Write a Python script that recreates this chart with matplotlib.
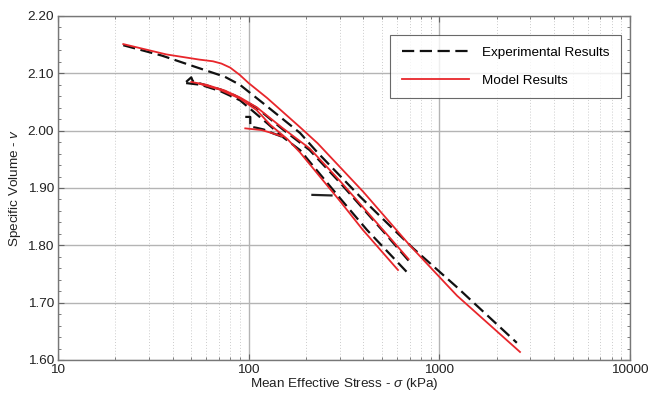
import numpy as np
import matplotlib
matplotlib.use('Agg')
import matplotlib.pyplot as plt
from matplotlib.ticker import FixedLocator, FixedFormatter, MultipleLocator, NullFormatter

plt.rcParams['font.family'] = ['Liberation Sans', 'DejaVu Sans']
plt.rcParams['mathtext.fontset'] = 'custom'
plt.rcParams['mathtext.it'] = 'Liberation Sans:italic'
plt.rcParams['mathtext.rm'] = 'Liberation Sans'

# ---- data: mean effective stress (kPa) vs specific volume ----
# test 1 (long test up to ~2600 kPa)
exp1_p = [22, 35, 55, 75, 90, 119, 186, 228, 384, 600, 728, 1237, 2550]
exp1_v = [2.149, 2.131, 2.109, 2.094, 2.080, 2.048, 1.996, 1.963, 1.885, 1.822, 1.795, 1.727, 1.630]
mod1_p = [22, 37, 55, 65, 72, 80, 90, 100, 125, 186, 230, 400, 700, 1000, 1240, 2650]
mod1_v = [2.151, 2.133, 2.124, 2.121, 2.117, 2.110, 2.097, 2.083, 2.057, 2.006, 1.978, 1.893, 1.800, 1.745, 1.712, 1.614]

# test 2 (middle line)
exp2_p = [47, 50, 51, 56, 71, 84, 110, 150, 209, 300, 500, 700]
exp2_v = [2.085, 2.093, 2.086, 2.082, 2.072, 2.062, 2.040, 2.003, 1.966, 1.910, 1.827, 1.771]
mod2_p = [50, 60, 75, 90, 110, 150, 209, 300, 500, 690]
mod2_v = [2.085, 2.080, 2.070, 2.058, 2.041, 2.005, 1.969, 1.913, 1.829, 1.776]

# test 3 (bottom line)
exp3_p = [47, 56, 71, 90, 102, 125, 151, 186, 300, 417, 700]
exp3_v = [2.083, 2.080, 2.069, 2.053, 2.038, 2.013, 1.989, 1.966, 1.883, 1.827, 1.748]
mod3_p = [55, 70, 90, 110, 130, 160, 186, 300, 397, 607]
mod3_v = [2.082, 2.072, 2.056, 2.036, 2.010, 1.985, 1.962, 1.878, 1.827, 1.757]

# test 4 (starts near 100 kPa, joins bottom line)
exp4_p = [96, 102, 102, 110, 120, 135, 151]
exp4_v = [2.024, 2.024, 2.007, 2.005, 2.002, 1.995, 1.989]
mod4_p = [96, 117, 132, 150]
mod4_v = [2.004, 2.001, 1.996, 1.990]

# short horizontal segment
hz_p = [216, 272]
hz_v = [1.888, 1.887]

y_ticks = [1.60, 1.70, 1.80, 1.90, 2.00, 2.10, 2.20]
x_ticks = [10, 100, 1000, 10000]
x_labels = ['10', '100', '1000', '10000']

red = '#e8262b'
dash = (0, (5.5, 2.5))
fs = 9.7

fig = plt.figure(figsize=(6.5, 3.94), dpi=100)
ax = fig.add_axes([0.0892, 0.0863, 0.8800, 0.8731])

for p, v in [(exp1_p, exp1_v), (exp2_p, exp2_v), (exp3_p, exp3_v), (exp4_p, exp4_v)]:
    ax.plot(p, v, color='#111111', lw=1.6, ls=dash, zorder=3)
ax.plot(hz_p, hz_v, color='#222222', lw=1.6, zorder=3)
for p, v in [(mod1_p, mod1_v), (mod2_p, mod2_v), (mod3_p, mod3_v), (mod4_p, mod4_v)]:
    ax.plot(p, v, color=red, lw=1.3, zorder=4)

# legend entries
ax.plot([], [], color='#111111', lw=1.6, ls=dash, label='Experimental Results')
ax.plot([], [], color=red, lw=1.3, label='Model Results')

ax.set_xscale('log')
ax.set_xlim(10, 10000)
ax.set_ylim(1.60, 2.20)
ax.xaxis.set_major_locator(FixedLocator(x_ticks))
ax.xaxis.set_major_formatter(FixedFormatter(x_labels))
ax.xaxis.set_minor_formatter(NullFormatter())
ax.yaxis.set_major_locator(FixedLocator(y_ticks))
ax.yaxis.set_major_formatter(FixedFormatter([f'{t:.2f}' for t in y_ticks]))
ax.yaxis.set_minor_locator(MultipleLocator(0.02))

ax.grid(True, which='major', color='#b4b4b4', lw=1.0)
ax.grid(True, which='minor', axis='x', color='#cccccc', lw=0.7, ls=(0, (1, 2)))
ax.set_axisbelow(True)

ax.tick_params(which='both', direction='in', top=True, right=True, colors='#666666',
               labelcolor='#222222', labelsize=fs)
ax.tick_params(which='major', length=4, pad=3)
ax.tick_params(which='minor', length=2.5)
for s in ax.spines.values():
    s.set_color('#777777')
    s.set_linewidth(1.0)

ax.set_xlabel(r'Mean Effective Stress - $\it{\sigma}$ (kPa)', fontsize=fs, color='#222222', labelpad=0)
ax.set_ylabel(r'Specific Volume - $\it{v}$', fontsize=fs, color='#222222', labelpad=3)

leg = ax.legend(loc='upper right', bbox_to_anchor=(0.985, 0.945), fontsize=fs, frameon=True,
                fancybox=False, edgecolor='#444444', handlelength=5.0, handletextpad=1.0,
                borderpad=0.85, labelspacing=1.15, borderaxespad=0)
leg.get_frame().set_linewidth(0.8)

fig.savefig('out.png', dpi=100)
